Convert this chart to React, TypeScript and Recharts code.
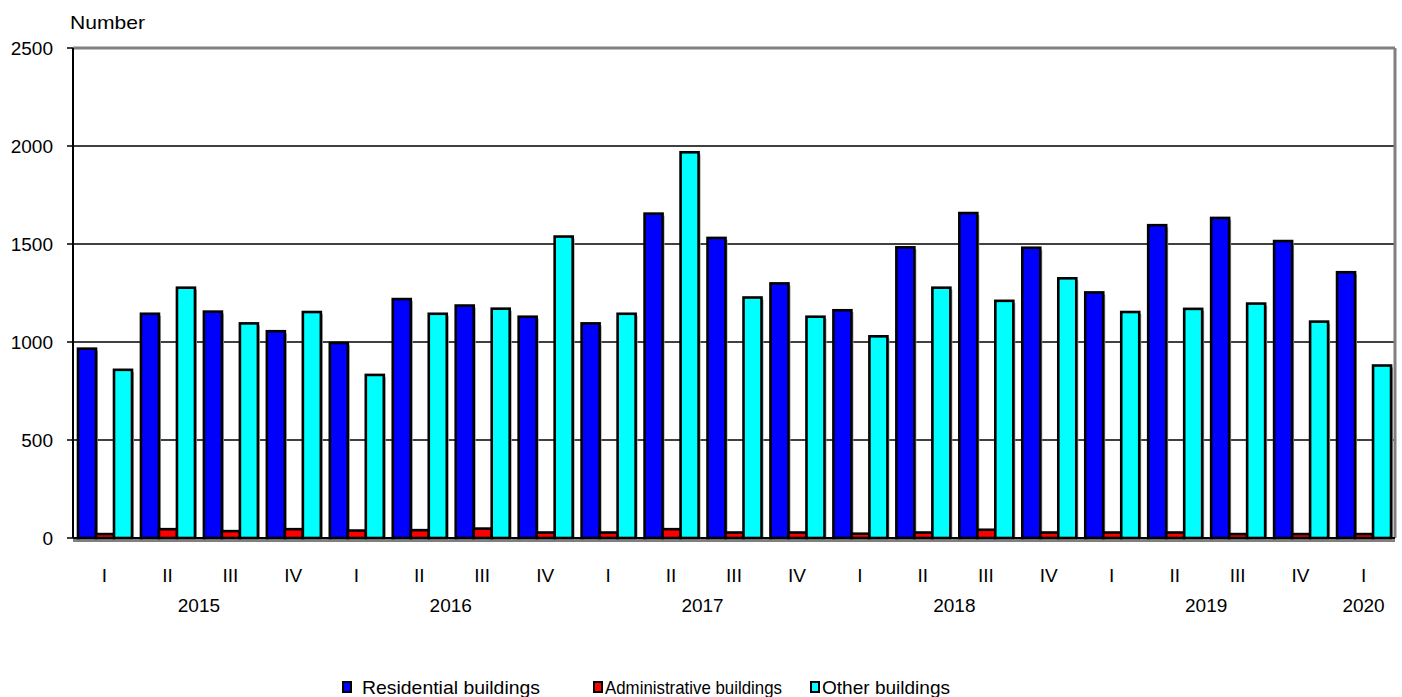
import React from "react";
import {
  BarChart,
  Bar,
  XAxis,
  YAxis,
  CartesianGrid,
  Legend,
} from "recharts";

const quarters = ["I", "II", "III", "IV", "I", "II", "III", "IV", "I", "II", "III", "IV", "I", "II", "III", "IV", "I", "II", "III", "IV", "I"];
const years = ["2015", "2015", "2015", "2015", "2016", "2016", "2016", "2016", "2017", "2017", "2017", "2017", "2018", "2018", "2018", "2018", "2019", "2019", "2019", "2019", "2020"];
const residential = [966, 1144, 1155, 1055, 995, 1219, 1186, 1129, 1095, 1655, 1531, 1299, 1162, 1483, 1658, 1481, 1253, 1596, 1633, 1515, 1356];
const administrative = [20, 45, 35, 45, 38, 40, 48, 28, 28, 45, 28, 28, 22, 28, 42, 28, 28, 28, 20, 20, 20];
const other = [858, 1277, 1095, 1153, 832, 1144, 1170, 1538, 1144, 1968, 1227, 1129, 1029, 1277, 1210, 1325, 1153, 1169, 1196, 1104, 880];
const yTicks = [0, 500, 1000, 1500, 2000, 2500];

const series = [
  { key: "residential", name: "Residential buildings", color: "#0000FF" },
  { key: "administrative", name: "Administrative buildings", color: "#FF0000" },
  { key: "other", name: "Other buildings", color: "#00FFFF" },
];

const data = quarters.map((q, i) => ({
  id: i,
  quarter: q,
  year: years[i],
  residential: residential[i],
  administrative: administrative[i],
  other: other[i],
}));

const W = 1402;
const H = 697;
const M = { top: 48, right: 7, left: 13, bottom: 0 };
const Y_AXIS_W = 60;
const FONT = "Arial, 'Liberation Sans', sans-serif";
const band = (W - M.left - Y_AXIS_W - M.right) / data.length;

const ShadowBar = (props: any) => {
  const { x, y, width, height, fill } = props;
  if (height <= 0) return null;
  return (
    <g>
      <rect x={x + 2} y={y + 2} width={width} height={height} fill="#a0a0a0" />
      <rect x={x} y={y} width={width} height={height} fill={fill} stroke="#000" strokeWidth={2.6} />
    </g>
  );
};

const QuarterTick = (props: any) => {
  const { x, y, index } = props;
  const row = data[index];
  if (!row) return null;
  const first = data.findIndex((d) => d.year === row.year);
  let last = first;
  while (last + 1 < data.length && data[last + 1].year === row.year) last++;
  return (
    <g>
      <text x={x} y={y + 37} textAnchor="middle" dominantBaseline="central" fontSize={19} fontFamily={FONT} fill="#000">
        {row.quarter}
      </text>
      {index === first && (
        <text
          x={x + ((last - first) / 2) * band}
          y={y + 67}
          textAnchor="middle"
          dominantBaseline="central"
          fontSize={19}
          fontFamily={FONT}
          fill="#000"
        >
          {row.year}
        </text>
      )}
    </g>
  );
};

// legend item placement, as in the original
const legendX = [342, 593, 810];
const legendTextX = [362, 605, 822];
const legendTextW = [178, 177, 128];

const LegendContent = () => (
  <svg width={W} height={20} style={{ display: "block" }}>
    {series.map((s, i) => (
      <g key={s.key}>
        <rect x={legendX[i] + 1} y={5} width={8} height={10} fill={s.color} stroke="#000" strokeWidth={2} />
        <text
          x={legendTextX[i]}
          y={10}
          dominantBaseline="central"
          fontSize={19}
          fontFamily={FONT}
          fill="#000"
          textLength={legendTextW[i]}
          lengthAdjust="spacingAndGlyphs"
        >
          {s.name}
        </text>
      </g>
    ))}
  </svg>
);

export default function App() {
  return (
    <div style={{ position: "absolute", left: 0, top: 0, width: W, height: H, background: "#fff" }}>
      <BarChart width={W} height={H} data={data} margin={M} barCategoryGap={5} barGap={0}>
        <CartesianGrid horizontal vertical={false} stroke="#000" strokeWidth={1.5} />
        <CartesianGrid
          horizontal
          vertical
          stroke="#808080"
          strokeWidth={3}
          horizontalCoordinatesGenerator={({ offset }: any) => [offset.top, offset.top + offset.height + 2.5]}
          verticalCoordinatesGenerator={({ offset }: any) => [offset.left + offset.width]}
        />
        <XAxis
          dataKey="id"
          height={139}
          tick={<QuarterTick />}
          tickLine={false}
          tickSize={0}
          tickMargin={0}
          interval={0}
          axisLine={{ stroke: "#000", strokeWidth: 2 }}
        />
        <YAxis
          width={Y_AXIS_W}
          domain={[0, 2500]}
          ticks={yTicks}
          interval={0}
          tickSize={6}
          tickMargin={14}
          tick={{ fontSize: 19, fontFamily: FONT, fill: "#000" }}
          tickLine={{ stroke: "#000", strokeWidth: 1.5 }}
          axisLine={{ stroke: "#000", strokeWidth: 2 }}
          label={{
            content: (p: any) => (
              <text
                x={p.viewBox.x + 57}
                y={p.viewBox.y - 26}
                fontSize={19}
                fontFamily={FONT}
                fill="#000"
                dominantBaseline="central"
                textLength={75}
                lengthAdjust="spacingAndGlyphs"
              >
                Number
              </text>
            ),
          }}
        />
        <Legend verticalAlign="bottom" height={20} content={<LegendContent />} wrapperStyle={{ left: 0, width: W }} />
        {series.map((s) => (
          <Bar
            key={s.key}
            dataKey={s.key}
            name={s.name}
            fill={s.color}
            shape={<ShadowBar />}
            isAnimationActive={false}
          />
        ))}
      </BarChart>
    </div>
  );
}
